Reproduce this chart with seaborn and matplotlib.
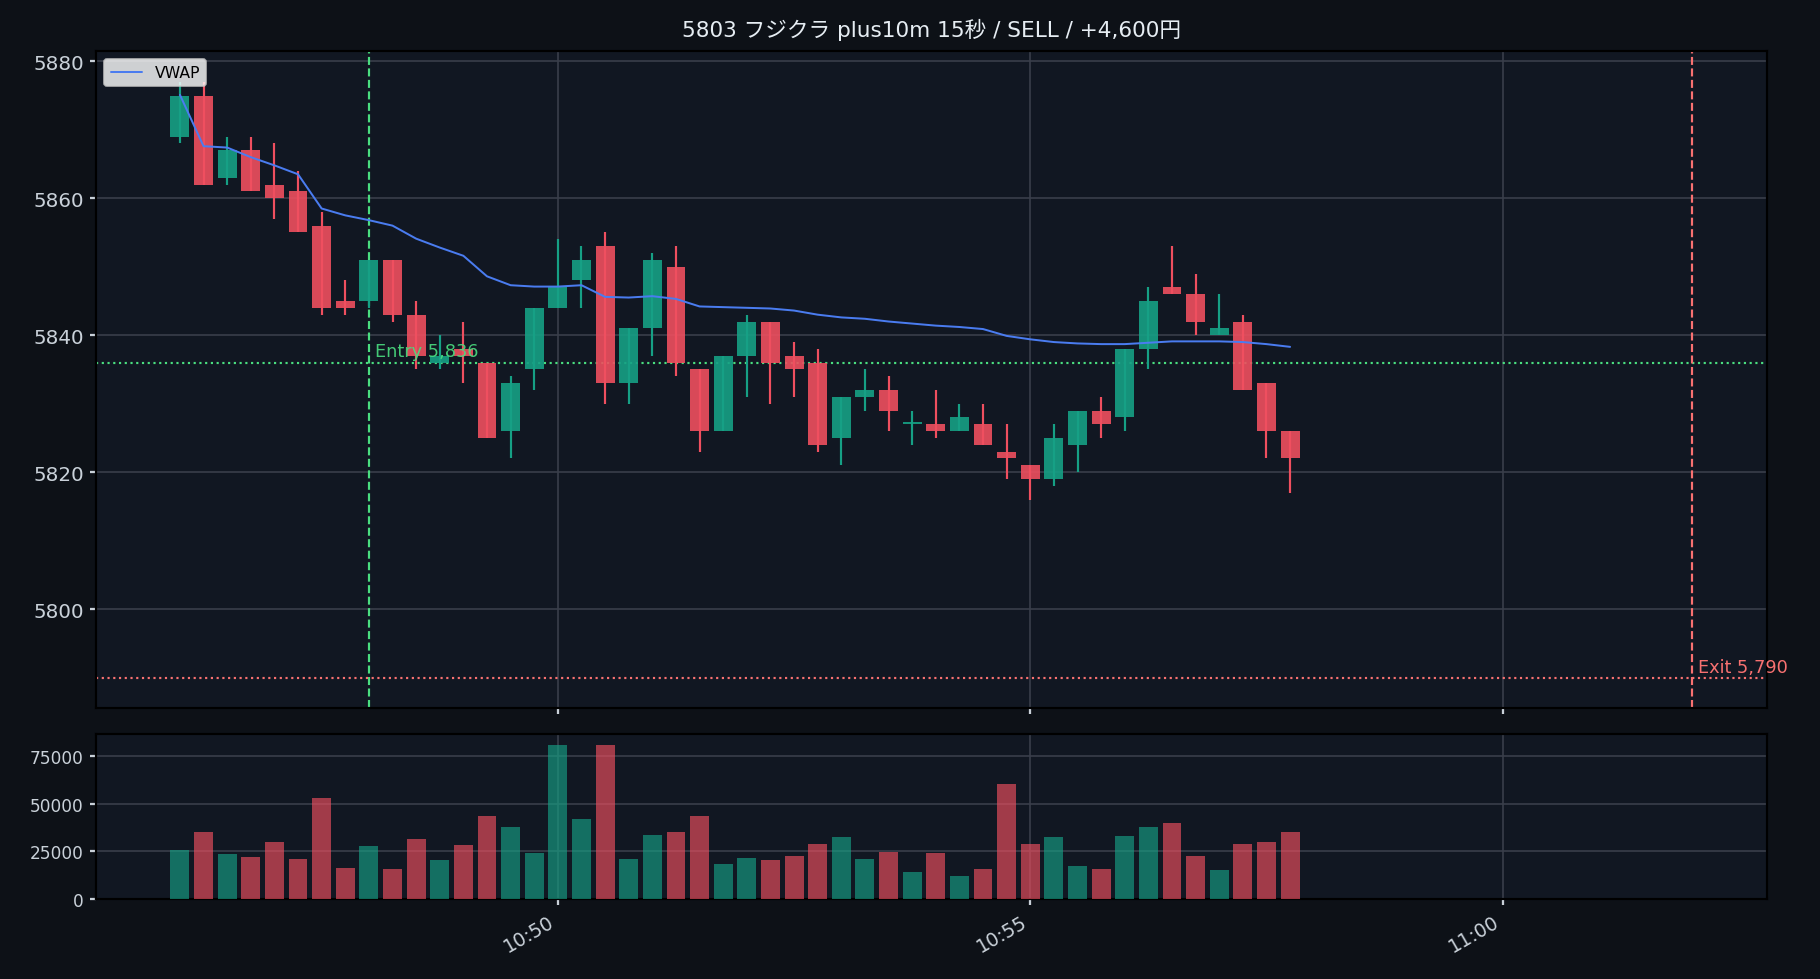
import matplotlib.pyplot as plt
import matplotlib.dates as mdates
import pandas as pd
import numpy as np
import seaborn as sns

# 15-second candles, 10:46:00 - 10:57:45
opens = [5869, 5875, 5863, 5867, 5862, 5861, 5856, 5845, 5845, 5851, 5843, 5836,
         5838, 5836, 5826, 5835, 5844, 5848, 5853, 5833, 5841, 5850, 5835, 5826,
         5837, 5842, 5837, 5836, 5825, 5831, 5832, 5827, 5827, 5826, 5827, 5823,
         5821, 5819, 5824, 5829, 5828, 5838, 5847, 5846, 5840, 5842, 5833, 5826]
closes = [5875, 5862, 5867, 5861, 5860, 5855, 5844, 5844, 5851, 5843, 5837, 5837,
          5837, 5825, 5833, 5844, 5847, 5851, 5833, 5841, 5851, 5836, 5826, 5837,
          5842, 5836, 5835, 5824, 5831, 5832, 5829, 5827, 5826, 5828, 5824, 5822,
          5819, 5825, 5829, 5827, 5838, 5845, 5846, 5842, 5841, 5832, 5826, 5822]
highs = [5877, 5877, 5869, 5869, 5868, 5864, 5858, 5848, 5851, 5851, 5845, 5840,
         5842, 5836, 5834, 5844, 5854, 5853, 5855, 5841, 5852, 5853, 5835, 5837,
         5843, 5842, 5839, 5838, 5831, 5835, 5834, 5829, 5832, 5830, 5830, 5827,
         5821, 5827, 5829, 5831, 5838, 5847, 5853, 5849, 5846, 5843, 5833, 5826]
lows = [5868, 5862, 5862, 5861, 5857, 5855, 5843, 5843, 5844, 5842, 5835, 5835,
        5833, 5825, 5822, 5832, 5844, 5844, 5830, 5830, 5837, 5834, 5823, 5826,
        5831, 5830, 5831, 5823, 5821, 5829, 5826, 5824, 5825, 5826, 5824, 5819,
        5816, 5818, 5820, 5825, 5826, 5835, 5846, 5840, 5840, 5832, 5822, 5817]
volumes = [25500, 34900, 23400, 21900, 29700, 20800, 53100, 16200, 27600, 15600,
           31200, 20300, 28100, 43700, 37500, 24000, 80700, 42200, 81200, 20800,
           33300, 34900, 43700, 18200, 21400, 20300, 22400, 28600, 32300, 20800,
           24500, 14100, 24000, 12000, 15600, 60400, 28600, 32300, 17200, 15600,
           32800, 38000, 39600, 22400, 15100, 28600, 29700, 34900]
vwap = [5875.1, 5867.6, 5867.4, 5866.0, 5864.8, 5863.5, 5858.5, 5857.5, 5856.8,
        5856.0, 5854.1, 5852.8, 5851.6, 5848.6, 5847.3, 5847.1, 5847.1, 5847.3,
        5845.6, 5845.5, 5845.7, 5845.3, 5844.2, 5844.1, 5844.0, 5843.9, 5843.6,
        5843.0, 5842.6, 5842.4, 5842.0, 5841.7, 5841.4, 5841.2, 5840.9, 5839.9,
        5839.4, 5839.0, 5838.8, 5838.7, 5838.7, 5838.9, 5839.1, 5839.1, 5839.1,
        5839.0, 5838.7, 5838.3]

entry_time, entry_price = '2025-01-01 10:48:00', 5836
exit_time, exit_price = '2025-01-01 11:02:00', 5790
title = '5803 フジクラ plus10m 15秒 / SELL / +4,600円'

times = pd.date_range('2025-01-01 10:46:00', periods=len(opens), freq='15s')
df = pd.DataFrame({'time': times, 'open': opens, 'high': highs, 'low': lows,
                   'close': closes, 'volume': volumes, 'vwap': vwap})
df['x'] = mdates.date2num(df['time'])
df['up'] = df['close'] >= df['open']

BG = '#0d1117'
PANEL = '#111722'
GREEN = '#16a085'
RED = '#ef4f5f'
TXT = '#c9d1d9'

sns.set_theme(style='dark', rc={
    'figure.facecolor': BG, 'axes.facecolor': PANEL, 'axes.edgecolor': '#000000',
    'axes.linewidth': 1.2, 'grid.color': '#3a3f4b', 'grid.linewidth': 0.9,
    'xtick.color': TXT, 'ytick.color': TXT, 'xtick.bottom': True, 'ytick.left': True,
})
plt.rcParams['font.family'] = ['DejaVu Sans', 'Noto Sans CJK JP']

fig = plt.figure(figsize=(14, 7.538), dpi=130)
gs = fig.add_gridspec(2, 1, height_ratios=[4, 1], hspace=0.065,
                      left=0.053, right=0.971, top=0.947, bottom=0.082)
ax = fig.add_subplot(gs[0])
axv = fig.add_subplot(gs[1], sharex=ax)

w = 12 / 86400
colors = np.where(df['up'], GREEN, RED)

# candles
ax.vlines(df['x'], df['low'], df['high'], colors=colors, lw=1.2, zorder=3)
body = np.maximum((df['close'] - df['open']).abs(), 0.4)
ax.bar(df['x'], body, bottom=np.minimum(df['open'], df['close']), width=w,
       color=colors, alpha=0.9, linewidth=0, edgecolor='none', zorder=4)

sns.lineplot(data=df, x='x', y='vwap', ax=ax, color='#4a7cf0', lw=1.1,
             label='VWAP', zorder=5)

ex = mdates.date2num(pd.Timestamp(entry_time))
xx = mdates.date2num(pd.Timestamp(exit_time))
ax.axvline(ex, color='#4ade80', ls='--', lw=1.2, zorder=2)
ax.axhline(entry_price, color='#4ade80', ls=':', lw=1.2, zorder=2)
ax.text(ex + 4 / 86400, entry_price + 0.3, f'Entry {entry_price:,}', color='#4ade80',
        fontsize=9.8, va='bottom', ha='left', alpha=0.9, zorder=6)
ax.axvline(xx, color='#f87171', ls='--', lw=1.2, zorder=2)
ax.axhline(exit_price, color='#f87171', ls=':', lw=1.2, zorder=2)
ax.text(xx + 4 / 86400, exit_price + 0.3, f'Exit {exit_price:,}', color='#f87171',
        fontsize=9.8, va='bottom', ha='left', zorder=6)

ax.set_ylim(5785.6, 5881.5)
ax.set_xlim(mdates.date2num(pd.Timestamp('2025-01-01 10:45:07')),
            mdates.date2num(pd.Timestamp('2025-01-01 11:02:48')))
ax.set_yticks([5800, 5820, 5840, 5860, 5880])
ax.grid(True)
ax.set_xlabel('')
ax.set_ylabel('')
ax.tick_params(axis='both', labelsize=11, length=3.5, labelbottom=False)
ax.set_title(title, color='#e6edf3', fontsize=12, pad=8)
leg = ax.legend(loc='upper left', fontsize=8.7, frameon=True, facecolor='white',
                framealpha=0.8, edgecolor='#cccccc')
for t in leg.get_texts():
    t.set_color('black')

# volume
axv.bar(df['x'], df['volume'], width=w, color=colors, alpha=0.65,
        linewidth=0, edgecolor='none', zorder=3)
axv.set_ylim(0, 86500)
axv.set_yticks([0, 25000, 50000, 75000])
axv.grid(True)
axv.xaxis.set_major_locator(mdates.MinuteLocator(byminute=range(0, 60, 5)))
axv.xaxis.set_major_formatter(mdates.DateFormatter('%H:%M'))
axv.tick_params(axis='y', labelsize=9.4, length=3.5)
axv.tick_params(axis='x', labelsize=10.5, length=3.5)
plt.setp(axv.get_xticklabels(), rotation=30, ha='right')

fig.savefig('out.png', dpi=130, facecolor=BG)
